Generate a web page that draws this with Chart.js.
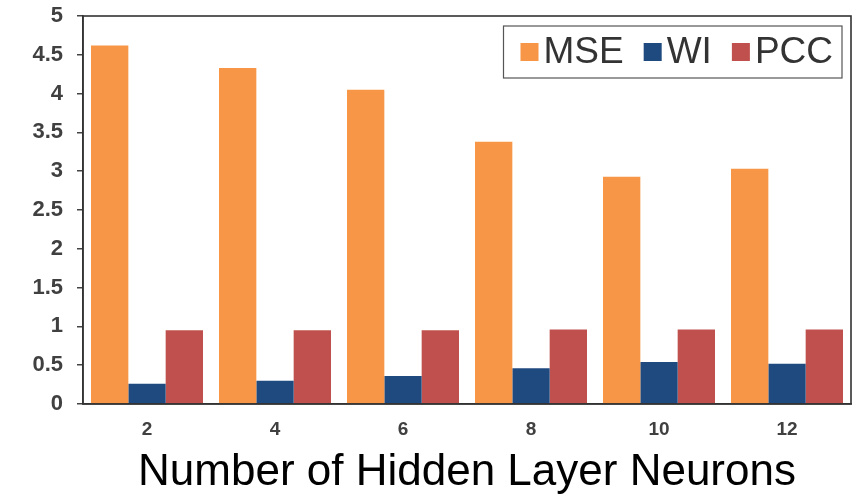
<!DOCTYPE html>
<html>
<head>
<meta charset="utf-8">
<script src="https://cdn.jsdelivr.net/npm/chart.js@4/dist/chart.umd.min.js"></script>
<style>
  html, body { margin: 0; padding: 0; background: #ffffff; }
  #wrap { width: 859px; height: 497px; position: relative; }
</style>
</head>
<body>
<div id="wrap"><canvas id="c" width="859" height="497"></canvas></div>
<script>
// Hidden layer sizes and the three evaluation metrics
const categories = ['2', '4', '6', '8', '10', '12'];
const mseValues = [4.62, 4.33, 4.05, 3.38, 2.93, 3.03];
const wiValues  = [0.26, 0.30, 0.36, 0.46, 0.54, 0.52];
const pccValues = [0.95, 0.95, 0.95, 0.96, 0.96, 0.96];
const yTicks = [0, 0.5, 1, 1.5, 2, 2.5, 3, 3.5, 4, 4.5, 5];

const FONT = '"Liberation Sans", Arial, Helvetica, sans-serif';

// Frame around the plot area
const frame = {
  id: 'frame',
  afterDatasetsDraw(chart) {
    const { ctx, chartArea: a } = chart;
    ctx.save();
    ctx.strokeStyle = '#333333';
    ctx.lineWidth = 1.6;
    ctx.strokeRect(a.left, a.top, a.right - a.left, a.bottom - a.top);
    ctx.restore();
  }
};

// Boxed legend in the upper right corner of the plot
const boxedLegend = {
  id: 'boxedLegend',
  afterDraw(chart) {
    const { ctx, chartArea: a } = chart;
    const size = 37, sq = 18, gapText = 5, gapItem = 20, padL = 17, padR = 9;
    ctx.save();
    ctx.font = size + 'px ' + FONT;
    const items = chart.data.datasets.map(ds => ({
      label: ds.label, color: ds.backgroundColor, w: ctx.measureText(ds.label).width
    }));
    let total = padL + padR;
    items.forEach((it, i) => { total += sq + gapText + it.w + (i < items.length - 1 ? gapItem : 0); });
    const right = a.right - 9, top = a.top + 10, h = 52;
    const left = right - total;
    ctx.fillStyle = '#ffffff';
    ctx.fillRect(left, top, total, h);
    ctx.strokeStyle = '#555555';
    ctx.lineWidth = 1.2;
    ctx.strokeRect(left, top, total, h);
    let x = left + padL;
    const cy = top + h / 2;
    ctx.textBaseline = 'middle';
    ctx.textAlign = 'left';
    items.forEach(it => {
      ctx.fillStyle = it.color;
      ctx.fillRect(x, cy - sq / 2, sq, sq);
      x += sq + gapText;
      ctx.fillStyle = '#333333';
      ctx.fillText(it.label, x, cy + 1);
      x += it.w + gapItem;
    });
    ctx.restore();
  }
};

new Chart(document.getElementById('c'), {
  type: 'bar',
  data: {
    labels: categories,
    datasets: [
      { label: 'MSE', data: mseValues, backgroundColor: '#F79646' },
      { label: 'WI',  data: wiValues,  backgroundColor: '#1F4A80' },
      { label: 'PCC', data: pccValues, backgroundColor: '#C0504D' }
    ]
  },
  options: {
    responsive: false,
    animation: false,
    layout: { padding: { left: 0, right: 8, top: 16, bottom: 0 } },
    plugins: {
      legend: { display: false },
      tooltip: { enabled: false }
    },
    datasets: {
      bar: { categoryPercentage: 0.875, barPercentage: 1.0 }
    },
    scales: {
      x: {
        grid: { display: false, drawTicks: false },
        border: { display: true, color: '#333333', width: 1.6 },
        ticks: {
          color: '#404040',
          padding: 14,
          font: { family: FONT, size: 19, weight: 'bold' }
        },
        title: {
          display: true,
          text: 'Number of Hidden Layer Neurons',
          color: '#000000',
          font: { family: FONT, size: 44, lineHeight: 1 },
          padding: { top: 0, bottom: 2 }
        },
        afterFit(scale) {
          scale.height = 93;
          scale.paddingLeft = 0;
          scale.paddingRight = 0;
        }
      },
      y: {
        min: 0,
        max: 5,
        afterBuildTicks(scale) { scale.ticks = yTicks.map(v => ({ value: v })); },
        grid: {
          drawOnChartArea: false,
          drawTicks: true,
          tickLength: 6,
          color: '#444444',
          lineWidth: 1.5
        },
        border: { display: true, color: '#333333', width: 1.6 },
        ticks: {
          color: '#404040',
          padding: 14,
          font: { family: FONT, size: 22, weight: 'bold' },
          callback: v => String(v)
        },
        afterFit(scale) {
          scale.width = 83;
          scale.paddingTop = 0;
          scale.paddingBottom = 0;
        }
      }
    }
  },
  plugins: [frame, boxedLegend]
});
</script>
</body>
</html>
